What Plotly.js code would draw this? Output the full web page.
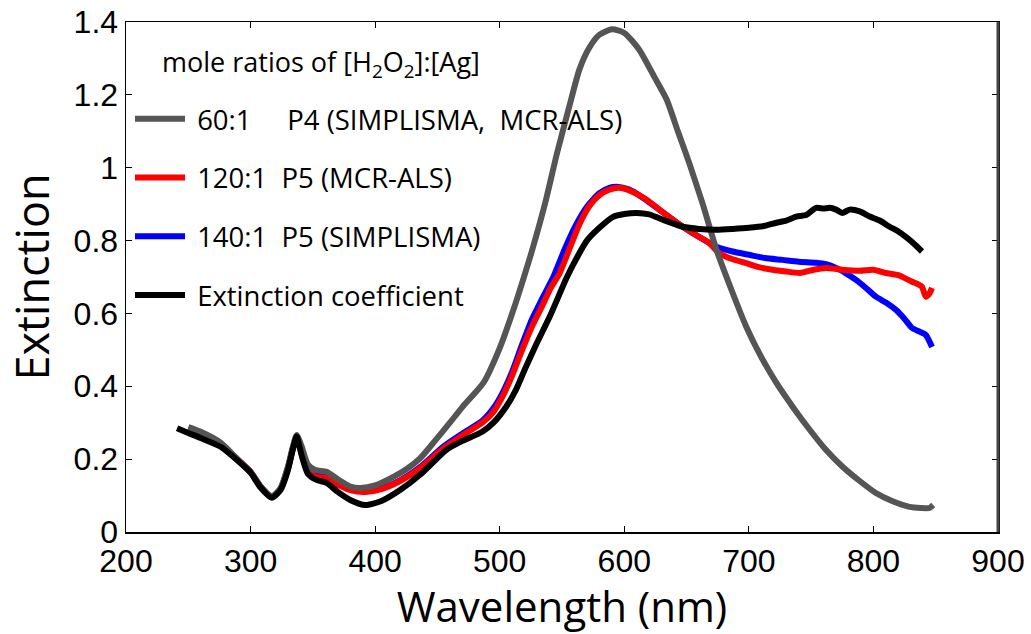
<!DOCTYPE html>
<html>
<head>
<meta charset="utf-8">
<script src="https://cdn.plot.ly/plotly-3.0.1.min.js"></script>
<style>html,body{margin:0;padding:0;background:#fff;}#chart{width:1031px;height:634px;}</style>
</head>
<body>
<div id="chart"></div>
<script>
// Series names
const names = [
  "\u00a060:1\u00a0\u00a0\u00a0\u00a0\u00a0P4 (SIMPLISMA,\u00a0 MCR-ALS)",
  "\u00a0120:1\u00a0\u00a0P5 (MCR-ALS)",
  "\u00a0140:1\u00a0\u00a0P5 (SIMPLISMA)",
  "\u00a0Extinction coefficient"
];
const legendTitle = "mole ratios of [H<sub>2</sub>O<sub>2</sub>]:[Ag]";
const xTitle = "Wavelength (nm)";
const yTitle = "Extinction";

// 60:1 P4 (grey)
const wlGrey = [250,260,276,290,300,308,317,324,330,334,337,341,346,352,361,370,380,388,400,415,425,436,448,460,470,487,500,511,519,527,537,546,556,564,572,580,590,600,612,624,634,643,652,663,674,686,698,710,722,736,749,762,775,789,802,815,829,838,845,848];
const exGrey = [0.288,0.275,0.245,0.198,0.165,0.125,0.098,0.12,0.18,0.235,0.266,0.235,0.185,0.17,0.165,0.145,0.125,0.121,0.128,0.152,0.172,0.202,0.25,0.30,0.343,0.41,0.505,0.61,0.695,0.785,0.91,1.04,1.17,1.27,1.33,1.365,1.38,1.37,1.324,1.25,1.187,1.10,1.014,0.90,0.775,0.665,0.563,0.48,0.41,0.34,0.28,0.225,0.18,0.14,0.107,0.085,0.069,0.066,0.066,0.074];

// 120:1 P5 MCR-ALS (red)
const wlRed = [250,260,276,290,300,308,317,324,330,334,337,341,346,352,361,370,380,392,405,420,436,455,470,486,495,502,510,518,526,534,541,548,554,564,572,580,588,596,606,618,630,642,655,668,676,686,698,708,719,730,741,752,762,775,789,800,810,820,831,836,839,842,845,847];
const exRed = [0.285,0.27,0.24,0.198,0.165,0.125,0.097,0.118,0.175,0.23,0.255,0.22,0.17,0.152,0.148,0.13,0.115,0.11,0.118,0.14,0.175,0.23,0.265,0.30,0.33,0.37,0.43,0.50,0.565,0.62,0.67,0.71,0.76,0.845,0.895,0.925,0.94,0.945,0.935,0.912,0.88,0.85,0.82,0.794,0.766,0.75,0.738,0.727,0.72,0.715,0.711,0.72,0.725,0.72,0.717,0.72,0.711,0.705,0.687,0.68,0.673,0.646,0.655,0.67];

// 140:1 P5 SIMPLISMA (blue)
const wlBlue = [250,260,276,290,300,308,317,324,330,334,337,341,346,352,361,370,380,392,405,420,436,455,470,486,495,502,510,518,526,534,543,552,560,570,580,588,594,604,616,630,647,660,674,687,700,713,727,740,754,762,770,778,786,794,802,810,818,825,831,837,842,847];
const exBlue = [0.285,0.27,0.24,0.198,0.165,0.125,0.097,0.118,0.175,0.23,0.255,0.22,0.17,0.155,0.152,0.133,0.118,0.112,0.12,0.142,0.178,0.235,0.27,0.305,0.34,0.38,0.44,0.515,0.585,0.64,0.70,0.775,0.835,0.893,0.93,0.945,0.948,0.94,0.915,0.88,0.838,0.81,0.783,0.77,0.761,0.752,0.747,0.742,0.739,0.735,0.725,0.71,0.692,0.67,0.646,0.63,0.61,0.585,0.56,0.55,0.541,0.508];

// Extinction coefficient (black)
const wlBlack = [241,250,260,276,290,300,308,317,324,330,334,337,341,346,353,361,370,380,392,405,420,436,457,470,486,495,505,513,521,530,540,554,564,570,580,591,600,610,620,631,647,660,674,687,700,712,722,730,738,746,754,760,765,770,775,781,789,797,805,813,820,826,833,839];
const exBlack = [0.285,0.272,0.258,0.234,0.195,0.163,0.122,0.094,0.115,0.17,0.228,0.262,0.21,0.16,0.143,0.135,0.11,0.088,0.074,0.085,0.115,0.157,0.225,0.25,0.275,0.30,0.343,0.39,0.453,0.52,0.59,0.70,0.766,0.80,0.835,0.865,0.873,0.876,0.872,0.857,0.838,0.832,0.83,0.832,0.835,0.84,0.849,0.855,0.866,0.87,0.89,0.888,0.89,0.885,0.876,0.885,0.88,0.866,0.855,0.838,0.825,0.81,0.79,0.77];

const colors = ["#555555", "#ff0000", "#0000ff", "#000000"];
const lw = 6;
const FONT = "Open Sans, sans-serif";

const traces = [
  {x: wlBlue, y: exBlue, name: names[2], color: colors[2], rank: 3},
  {x: wlRed, y: exRed, name: names[1], color: colors[1], rank: 2},
  {x: wlGrey, y: exGrey, name: names[0], color: colors[0], rank: 1},
  {x: wlBlack, y: exBlack, name: names[3], color: colors[3], rank: 4}
].map((t) => ({
  type: "scatter", mode: "lines", x: t.x, y: t.y, name: t.name,
  legendrank: t.rank, legendgroup: "g" + t.rank,
  line: {color: t.color, width: lw, shape: "spline", smoothing: 0.6}
}));

const axisCommon = {
  showgrid: false, zeroline: false, showline: true, linecolor: "#000", linewidth: 1.5,
  mirror: "ticks", ticks: "inside", ticklen: 6, tickwidth: 1.2, tickcolor: "#000",
  tickfont: {family: "Liberation Sans, Arial, sans-serif", size: 32, color: "#000"}
};

const layout = {
  width: 1031, height: 634,
  margin: {l: 126, r: 33, t: 22, b: 102},
  paper_bgcolor: "#fff", plot_bgcolor: "#fff",
  showlegend: true,
  legend: {
    x: 4 / 872, y: 0.858, xanchor: "left", yanchor: "top",
    bgcolor: "rgba(0,0,0,0)", borderwidth: 0,
    font: {family: FONT, size: 27.5, color: "#000"},
    traceorder: "grouped", tracegroupgap: 20, itemwidth: 50
  },
  shapes: [{
    type: "line", xref: "paper", yref: "paper", x0: 1, x1: 1, y0: 0, y1: 1,
    line: {color: "#444", width: 3}
  }],
  annotations: [{
    text: legendTitle, xref: "paper", yref: "paper",
    x: (160 - 126) / 872, y: 1 - (63 - 22) / 510, xanchor: "left", yanchor: "middle",
    showarrow: false, font: {family: FONT, size: 27, color: "#000"}
  }],
  xaxis: Object.assign({}, axisCommon, {
    range: [200, 900], dtick: 100, tick0: 200,
    title: {text: xTitle, font: {family: FONT, size: 42, color: "#000"}, standoff: 8}
  }),
  yaxis: Object.assign({}, axisCommon, {
    range: [0, 1.4], dtick: 0.2, tick0: 0,
    title: {text: yTitle, font: {family: FONT, size: 45, color: "#000"}, standoff: 10}
  })
};

Plotly.newPlot("chart", traces, layout, {staticPlot: true});
</script>
</body>
</html>
